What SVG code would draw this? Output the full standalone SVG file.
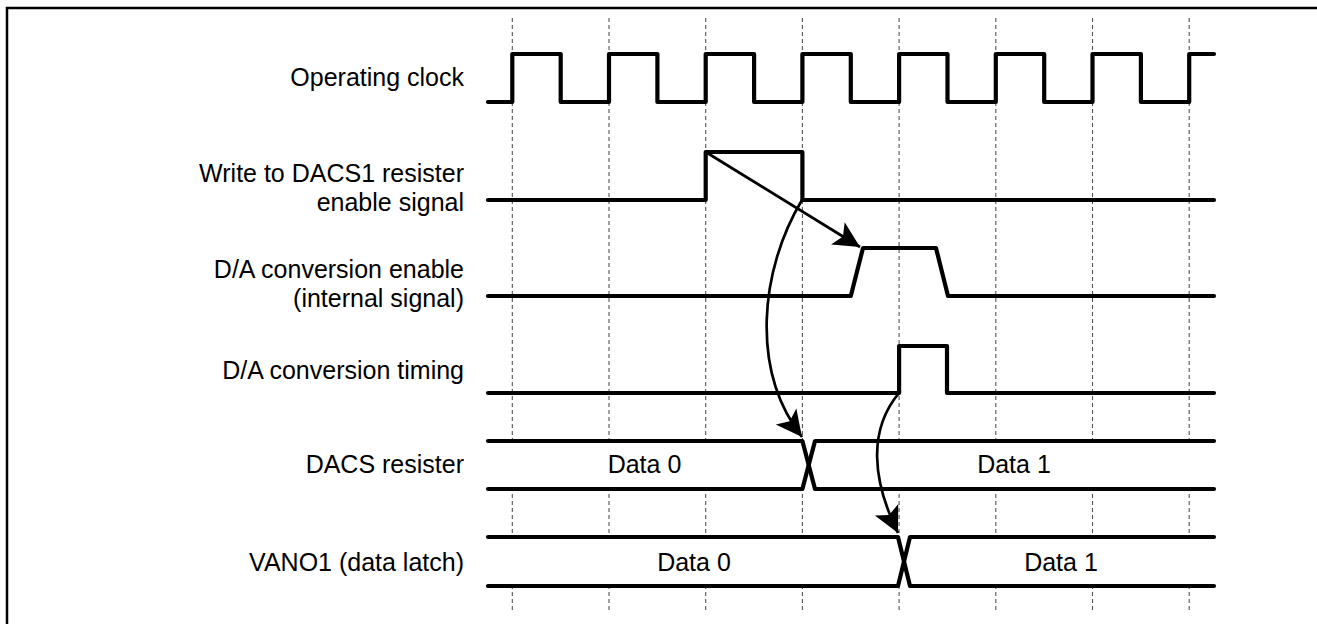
<svg xmlns="http://www.w3.org/2000/svg" width="1317" height="624" viewBox="0 0 1317 624">
<style>
.bg{fill:#ffffff}
.frame{fill:none;stroke:#000;stroke-width:2.5}
.grid{stroke:#555;stroke-width:1.1;stroke-dasharray:4 3;fill:none}
.bus{fill:#ffffff;stroke:none}
.sig{fill:none;stroke:#000;stroke-width:4.2;stroke-linejoin:round;stroke-linecap:round}
.lbl{font-family:"Liberation Sans",Arial,sans-serif;font-size:25px;fill:#000;text-anchor:end}
.dat{font-family:"Liberation Sans",Arial,sans-serif;font-size:25px;fill:#000;text-anchor:middle}
.arr{fill:none;stroke:#000;stroke-width:2.7}
</style>
<defs>
<marker id="ah" markerUnits="userSpaceOnUse" viewBox="-28 -15 30 30" markerWidth="30" markerHeight="30" refX="0" refY="0" orient="auto">
<path d="M0,0 L-26,-13 L-20,0 L-26,13 Z" fill="#000"/>
</marker>
</defs>
<rect class="bg" x="0" y="0" width="1317" height="624"/>
<rect class="frame" x="7" y="8" width="1340" height="650"/>
<g id="gridlines">
<line class="grid" x1="512.3" y1="18" x2="512.3" y2="610"/>
<line class="grid" x1="609" y1="18" x2="609" y2="610"/>
<line class="grid" x1="705.7" y1="18" x2="705.7" y2="610"/>
<line class="grid" x1="802.4" y1="18" x2="802.4" y2="610"/>
<line class="grid" x1="899.1" y1="18" x2="899.1" y2="610"/>
<line class="grid" x1="995.8" y1="18" x2="995.8" y2="610"/>
<line class="grid" x1="1092.5" y1="18" x2="1092.5" y2="610"/>
<line class="grid" x1="1189.2" y1="18" x2="1189.2" y2="610"/>
</g>
<g id="clock">
<text class="lbl" x="464" y="86">Operating clock</text>
<path class="sig" d="M488,102 H512.3 V54 H560.7 V102 H609 V54 H657.4 V102 H705.7 V54 H754.1 V102 H802.4 V54 H850.8 V102 H899.1 V54 H947.5 V102 H995.8 V54 H1044.2 V102 H1092.5 V54 H1140.9 V102 H1189.2 V54 H1214"/>
</g>
<g id="write-enable">
<text class="lbl" x="464" y="181.5">Write to DACS1 resister</text>
<text class="lbl" x="464" y="210.5">enable signal</text>
<path class="sig" d="M488,200 H705.7 V152 H802.4 V200 H1214"/>
</g>
<g id="da-enable">
<text class="lbl" x="464" y="278">D/A conversion enable</text>
<text class="lbl" x="464" y="307">(internal signal)</text>
<path class="sig" d="M488,296 H850.8 L863,248 H936 L948,296 H1214"/>
</g>
<g id="da-timing">
<text class="lbl" x="464" y="379">D/A conversion timing</text>
<path class="sig" d="M488,393 H899.1 V346 H947 V393 H1214"/>
</g>
<g id="dacs">
<text class="lbl" x="464" y="473">DACS resister</text>
<rect class="bus" x="488" y="441" width="726" height="48"/>
<path class="sig" d="M488,441 H802.4 L815,489 H1214"/>
<path class="sig" d="M488,489 H802.4 L815,441 H1214"/>
<text class="dat" x="644.5" y="473">Data 0</text>
<text class="dat" x="1014" y="473">Data 1</text>
</g>
<g id="vano1">
<text class="lbl" x="464" y="571">VANO1 (data latch)</text>
<rect class="bus" x="488" y="537" width="726" height="49"/>
<path class="sig" d="M488,537 H898 L910,586 H1214"/>
<path class="sig" d="M488,586 H898 L910,537 H1214"/>
<text class="dat" x="694" y="571">Data 0</text>
<text class="dat" x="1061" y="571">Data 1</text>
</g>
<g id="connectors">
<path class="arr" d="M705.7,152 L860,247" marker-end="url(#ah)"/>
<path class="arr" d="M802,200 C760,270 750,370 802,437" marker-end="url(#ah)"/>
<path class="arr" d="M899,393 C868,430 872,480 898,533" marker-end="url(#ah)"/>
</g>
</svg>
